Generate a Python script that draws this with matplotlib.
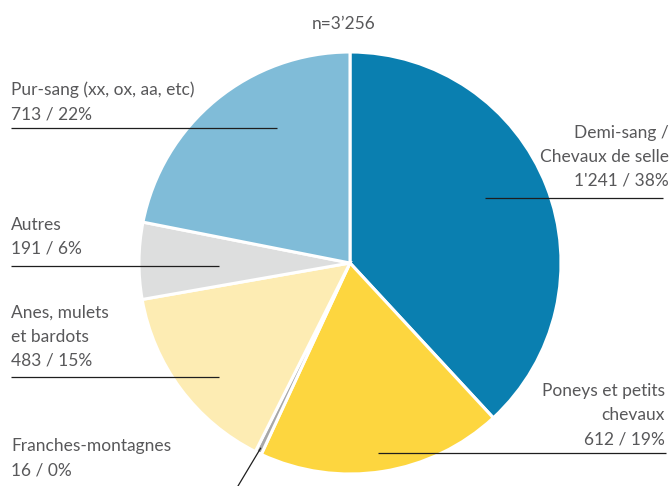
import matplotlib.pyplot as plt
import numpy as np

# data, clockwise from 12 o'clock
names = ["Demi-sang /\nChevaux de selle", "Poneys et petits\nchevaux", "Franches-montagnes",
         "Anes, mulets\net bardots", "Autres", "Pur-sang (xx, ox, aa, etc)"]
counts = [1241, 612, 16, 483, 191, 713]
colors = ["#0a7fb0", "#fdd63f", "#a8a8a8", "#fdecb3", "#dddede", "#80bcd8"]

W, H = 671, 486
plt.rcParams['font.family'] = ['Lato', 'DejaVu Sans']
txt_color = "#58585a"

fig = plt.figure(figsize=(W / 100, H / 100), dpi=100)
ax = fig.add_axes([0, 0, 1, 1])

cx, cy, r = 350, H - 263, 211
ax.pie(counts, colors=colors, startangle=90, counterclock=False,
       center=(cx, cy), radius=r,
       wedgeprops=dict(edgecolor='white', linewidth=2.2))
ax.set_xlim(0, W)
ax.set_ylim(0, H)
ax.set_aspect('auto')
ax.axis('off')

total = sum(counts)

# label layout: (x, ha, baseline of last line, underline y, underline x0, x1) in pixels from top
layout = [
    (669, 'right', 186, 198, 485, 663),
    (665, 'right', 444, 453, 378, 666),
    (11, 'left', 475, None, None, None),
    (11, 'left', 366, 377, 11, 219),
    (11, 'left', 254, 266, 11, 219),
    (11, 'left', 119, 128, 11, 277),
]
step = 24

for name, c, (x, ha, base, uy, ux0, ux1) in zip(names, counts, layout):
    pct = round(100 * c / total)
    lines = name.split("\n") + [f"{c:,}".replace(",", "'") + f" / {pct}%"]
    n = len(lines)
    for i, line in enumerate(lines):
        yb = base - (n - 1 - i) * step
        ax.text(x, H - yb, line, ha=ha, va='baseline', fontsize=12.5, color=txt_color)
    if uy is not None:
        ax.plot([ux0, ux1], [H - uy, H - uy], color="#1e1e1e", lw=0.9, solid_capstyle='butt')

# leader line for the thin Franches-montagnes slice
cum = np.cumsum([0] + counts)
k = 2
theta = np.deg2rad(360 * (cum[k] + counts[k] / 2) / total)
x0 = cx + 0.975 * r * np.sin(theta)
y0 = cy + 0.975 * r * np.cos(theta)
ax.plot([x0, 238], [y0, 0], color="#1e1e1e", lw=0.9)

ax.text(344, H - 29, "n=" + f"{total:,}".replace(",", "\u2019"), ha='center', va='baseline',
        fontsize=12.5, color=txt_color)

fig.savefig("out.png", dpi=100)
